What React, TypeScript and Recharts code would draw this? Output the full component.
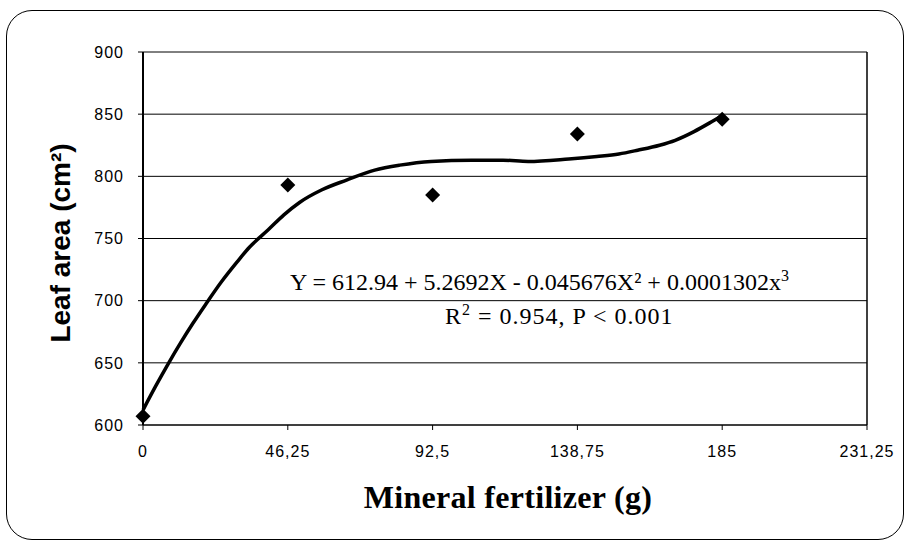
import React from 'react';
import { ComposedChart, Line, Scatter, XAxis, YAxis, CartesianGrid, ReferenceLine, Label } from 'recharts';

// measured leaf area at each fertilizer dose
const doses = [0, 46.25, 92.5, 138.75, 185];
const leafArea = [607, 793, 785, 834, 846];

// fitted cubic trend
const fitX = [0, 4, 8, 12, 16, 20, 25, 30, 34, 40, 45, 50, 57, 65, 74, 82, 92, 105, 115, 123, 136, 145, 152, 158, 165, 170, 176, 181, 185];
const fitY = [612, 631, 649, 666, 682, 697, 715, 731, 743, 757, 769, 779, 789, 797, 805, 809, 812, 813, 813, 812, 814, 816, 818, 821, 825, 829, 836, 843, 849];

const xTicks = [0, 46.25, 92.5, 138.75, 185, 231.25];
const xTickLabels = ['0', '46,25', '92,5', '138,75', '185', '231,25'];
const yTicks = [600, 650, 700, 750, 800, 850, 900];

const points = doses.map((x, i) => ({ x, y: leafArea[i] }));
const curve = fitX.map((x, i) => ({ x, y: fitY[i] }));

const sans = '"Liberation Sans", Arial, sans-serif';
const serif = '"Liberation Serif", "Times New Roman", serif';

const Diamond = (props: any) => {
  const { cx, cy } = props;
  const r = 7.5;
  return <path d={`M${cx},${cy - r}L${cx + r},${cy}L${cx},${cy + r}L${cx - r},${cy}Z`} fill="#000" />;
};

export default function App() {
  return (
    <div style={{ position: 'absolute', left: 0, top: 0, width: 907, height: 545, background: '#fff' }}>
      <div
        style={{
          position: 'absolute', left: 6, top: 10, width: 898, height: 530,
          border: '1.5px solid #000', borderRadius: 26, boxSizing: 'border-box',
        }}
      />
      <div style={{ position: 'absolute', left: 0, top: 0 }}>
        <ComposedChart width={907} height={545} margin={{ top: 52, right: 40, bottom: 0, left: 0 }}>
          <CartesianGrid horizontal vertical={false} stroke="#000" strokeWidth={1} />
          <XAxis
            type="number"
            dataKey="x"
            domain={[0, 231.25]}
            ticks={xTicks}
            interval={0}
            tickFormatter={(v) => xTickLabels[xTicks.indexOf(v)]}
            height={120}
            stroke="#000"
            tickSize={5}
            tickMargin={16}
            tick={{ fill: '#000', fontSize: 16, fontFamily: sans, letterSpacing: 1 }}
          >
            <Label
              content={(p: any) => {
                const vb = p.viewBox;
                return (
                  <text x={vb.x + vb.width / 2 + 3} y={508} textAnchor="middle" fontFamily={serif} fontWeight="bold" fontSize={32} letterSpacing={0.3} fill="#000">
                    Mineral fertilizer (g)
                  </text>
                );
              }}
            />
          </XAxis>
          <YAxis
            type="number"
            dataKey="y"
            domain={[600, 900]}
            ticks={yTicks}
            interval={0}
            width={143}
            axisLine={{ stroke: '#000', strokeWidth: 2 }}
            tickLine={{ stroke: '#000' }}
            tickSize={5}
            tickMargin={14}
            tick={{ fill: '#000', fontSize: 16, fontFamily: sans, letterSpacing: 1 }}
          >
            <Label
              content={() => (
                <text x={70} y={243} transform="rotate(-90 70 243)" textAnchor="middle" fontFamily={sans} fontWeight="bold" fontSize={28} fill="#000">
                  Leaf area (cm²)
                </text>
              )}
            />
          </YAxis>
          <ReferenceLine x={231.25} stroke="#000" strokeWidth={1.5} />
          <Line data={curve} dataKey="y" type="monotone" stroke="#000" strokeWidth={3.5} dot={false} isAnimationActive={false} />
          <Scatter data={points} dataKey="y" shape={Diamond} isAnimationActive={false} />
        </ComposedChart>
      </div>
      <div style={{ position: 'absolute', left: 290, top: 268, fontFamily: serif, fontSize: 24, lineHeight: 1, whiteSpace: 'nowrap', color: '#000' }}>
        Y = 612.94 + 5.2692X - 0.045676X² + 0.0001302x<sup style={{ fontSize: 16 }}>3</sup>
      </div>
      <div style={{ position: 'absolute', left: 445, top: 302, fontFamily: serif, fontSize: 24, lineHeight: 1, letterSpacing: 1, whiteSpace: 'nowrap', color: '#000' }}>
        R<sup style={{ fontSize: 16 }}>2</sup> = 0.954, P &lt; 0.001
      </div>
    </div>
  );
}
